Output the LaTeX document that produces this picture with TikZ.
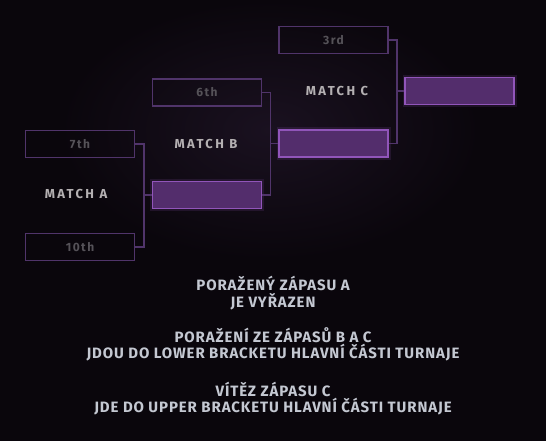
\documentclass[tikz,border=0pt]{standalone}
\usepackage{fontspec}
\setmainfont{Fira Sans}
\newfontfamily\seedfont[LetterSpace=12]{Fira Sans}
\newfontfamily\matchfont[LetterSpace=18]{Fira Sans}
\newfontfamily\infofont[LetterSpace=6]{Fira Sans}
\definecolor{bgdark}{HTML}{0A060C}
\definecolor{bgglow}{HTML}{1A1120}
\definecolor{slotline}{HTML}{50346A}
\definecolor{winline}{HTML}{9155BA}
\definecolor{winfill}{HTML}{532D6C}
\definecolor{seedtext}{HTML}{555258}
\definecolor{matchtext}{HTML}{B4B0B2}
\definecolor{infotext}{HTML}{C4C8D2}
\begin{document}
\begin{tikzpicture}[x=1pt,y=-1pt,font=\bfseries,
   slot/.style={draw=slotline,line width=1.3pt,minimum width=109pt,minimum height=27pt,
      inner sep=0pt,text=seedtext,font=\seedfont\bfseries\fontsize{12}{12}\selectfont},
   winslot/.style={slot,draw=winline,fill=winfill,
      preaction={draw=winline,line width=5pt,opacity=0.15}},
   bracket/.style={draw=slotline,line width=1.1pt},
   matchlabel/.style={text=matchtext,font=\matchfont\bfseries\fontsize{13}{13}\selectfont},
   info/.style={text=infotext,align=center,font=\infofont\bfseries\fontsize{15}{16.5}\selectfont}]
   \useasboundingbox (0,0) rectangle (546,441);
   \fill[bgdark] (0,0) rectangle (546,441);
   \fill[inner color=bgglow,outer color=bgdark] (60,0) rectangle (480,260);

   % seeds and winners
   \node[slot] (s7) at (80,144) {7th};
   \node[slot] (s10) at (80,247) {10th};
   \node[winslot] (wA) at (207,195) {};
   \node[slot] (s6) at (207,92.5) {6th};
   \node[winslot] (wB) at (333.5,143.5) {};
   \node[slot] (s3) at (333.5,40) {3rd};
   \node[winslot] (wC) at (459.5,91) {};

   \node[matchlabel] (mA) at (76,194) {MATCH A};
   \node[matchlabel] (mB) at (206,144) {MATCH B};
   \node[matchlabel] (mC) at (337,91) {MATCH C};

   % brackets
   \coordinate (jA) at (144,195);
   \coordinate (jB) at (270.5,143.5);
   \coordinate (jC) at (397,91);
   \draw[bracket] (s7.east) -| (jA) |- (s10.east);
   \draw[bracket] (jA) -- (wA.west);
   \draw[bracket] (s6.east) -| (jB) |- (wA.east);
   \draw[bracket] (jB) -- (wB.west);
   \draw[bracket] (s3.east) -| (jC) |- (wB.east);
   \draw[bracket] (jC) -- (wC.west);

   % notes
   \node[info] (n1) at (273,293) {PORAŽENÝ ZÁPASU A\\JE VYŘAZEN};
   \node[info] (n2) at (273,344.5) {PORAŽENÍ ZE ZÁPASŮ B A C\\JDOU DO LOWER BRACKETU HLAVNÍ ČÁSTI TURNAJE};
   \node[info] (n3) at (273,398.5) {VÍTĚZ ZÁPASU C\\JDE DO UPPER BRACKETU HLAVNÍ ČÁSTI TURNAJE};
\end{tikzpicture}
\end{document}
